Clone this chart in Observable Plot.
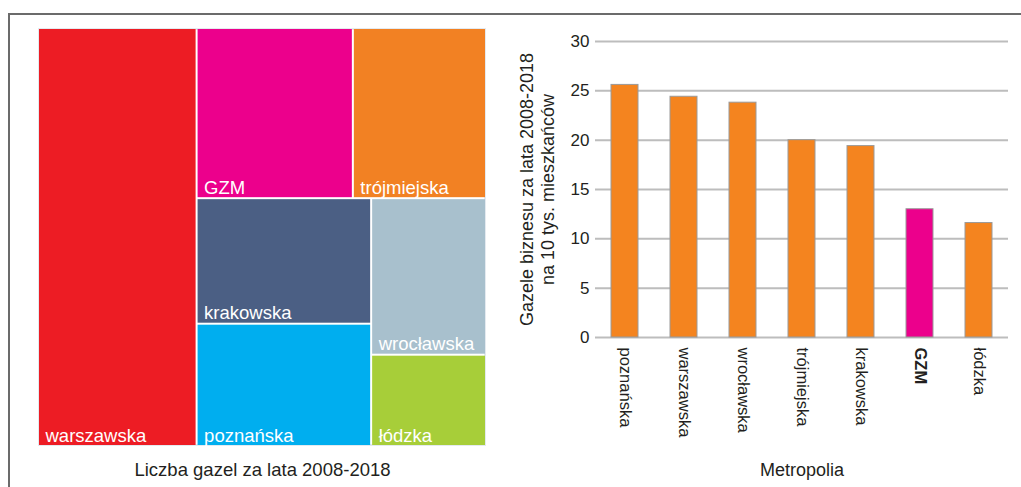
<!DOCTYPE html>
<html>
<head>
<meta charset="utf-8">
<script src="https://cdn.jsdelivr.net/npm/d3@7"></script>
<script src="https://cdn.jsdelivr.net/npm/@observablehq/plot@0.6"></script>
<style>
  html, body { margin: 0; padding: 0; background: #fff; }
  body { width: 1021px; height: 487px; position: relative; overflow: hidden; font-family: "Liberation Sans", Arial, sans-serif; }
  #frame { position: absolute; left: 8px; top: 13px; width: 1013px; height: 474px; border-top: 2px solid #6b6b6b; border-left: 2px solid #6b6b6b; box-sizing: border-box; }
  #tree { position: absolute; left: 0; top: 0; }
  #bars { position: absolute; left: 500px; top: 0; }
</style>
</head>
<body>
<div id="frame"></div>
<div id="tree"></div>
<div id="bars"></div>
<script>
// ---- Treemap data: number of gazelles 2008-2018 (estimated) ----
const treeNames  = ["warszawska", "GZM", "trójmiejska", "krakowska", "poznańska", "wrocławska", "łódzka"];
const treeValues = [3540, 1420, 1210, 1170, 1140, 960, 560];
const treeColors = ["#ED1C24", "#EC008C", "#F28123", "#4B5F84", "#00AEEF", "#A8C0CD", "#A7CE39"];
// nesting of the tiles (indices into treeNames)
const treeGroups = [0, [[1, 2], [[3, 4], [5, 6]]]];
const treeTitle = "Liczba gazel za lata 2008-2018";

// ---- Bar chart data: gazelles per 10k inhabitants (estimated) ----
const barCategories = ["poznańska", "warszawska", "wrocławska", "trójmiejska", "krakowska", "GZM", "łódzka"];
const barValues = [25.6, 24.4, 23.8, 20.0, 19.4, 13.0, 11.6];
const barColors = ["#F4841F", "#F4841F", "#F4841F", "#F4841F", "#F4841F", "#EC008C", "#F4841F"];
const yTicks = [0, 5, 10, 15, 20, 25, 30];
const yTitle = "Gazele biznesu za lata 2008-2018\nna 10 tys. mieszkańców";
const xTitle = "Metropolia";
const boldCategories = ["GZM"];

const font = '"Liberation Sans", Arial, sans-serif';
const ink = "#231f20";

// ---- Treemap ----
function build(g) {
  if (typeof g === "number") return {name: treeNames[g], value: treeValues[g], color: treeColors[g]};
  return {children: g.map(build)};
}
const TW = 446, TH = 416;
const root = d3.hierarchy(build(treeGroups)).sum(d => d.value || 0);
d3.treemap().tile(d3.treemapSliceDice).size([TW, TH]).paddingInner(2)(root);
const leaves = root.leaves();

const tree = Plot.plot({
  width: 500, height: 487,
  marginLeft: 39, marginRight: 15, marginTop: 29, marginBottom: 42,
  x: {domain: [0, TW], axis: null},
  y: {domain: [0, TH], reverse: true, axis: null},
  style: {fontFamily: font, background: "transparent"},
  marks: [
    Plot.rect([0], {x1: 0, x2: TW, y1: 0, y2: TH, fill: "none", stroke: "#e4eaf0", strokeWidth: 2}),
    Plot.rect(leaves, {x1: d => d.x0, x2: d => d.x1, y1: d => d.y0, y2: d => d.y1, fill: d => d.data.color}),
    Plot.text(leaves, {x: d => d.x0, y: d => d.y1, text: d => d.data.name, textAnchor: "start", lineAnchor: "bottom",
      dx: 6, dy: -4, fill: "white", fontSize: 18.5}),
    Plot.text([treeTitle], {frameAnchor: "bottom", text: d => d, dy: 25, lineAnchor: "middle", fontSize: 18.5, fill: ink})
  ]
});
document.getElementById("tree").append(tree);

// ---- Bar chart ----
const barData = barCategories.map((c, i) => ({name: c, value: barValues[i], color: barColors[i]}));
const bars = Plot.plot({
  width: 521, height: 487,
  marginLeft: 95, marginRight: 13, marginTop: 41, marginBottom: 150,
  x: {domain: barCategories, paddingInner: 0.545, paddingOuter: 0.2725, axis: null},
  y: {domain: [0, 30], axis: null},
  color: {type: "identity"},
  style: {fontFamily: font, background: "transparent"},
  marks: [
    Plot.ruleY(yTicks, {stroke: "#bdbdbd", strokeWidth: 2}),
    Plot.barY(barData, {x: "name", y: "value", fill: "color", stroke: "#9a9a9a", strokeWidth: 1}),
    Plot.axisY(yTicks, {tickSize: 0, tickPadding: 6, fontSize: 17, label: null, color: ink}),
    Plot.text(barData.filter(d => !boldCategories.includes(d.name)), {x: "name", text: "name", frameAnchor: "bottom",
      rotate: 90, textAnchor: "start", lineAnchor: "middle", dy: 10, fontSize: 16.5, fill: ink}),
    Plot.text(barData.filter(d => boldCategories.includes(d.name)), {x: "name", text: "name", frameAnchor: "bottom",
      rotate: 90, textAnchor: "start", lineAnchor: "middle", dy: 10, fontSize: 16.5, fontWeight: "bold", fill: ink}),
    Plot.text([xTitle], {frameAnchor: "bottom", text: d => d, dy: 133, lineAnchor: "middle", fontSize: 18, fill: ink}),
    Plot.text([yTitle], {frameAnchor: "left", text: d => d, rotate: -90, dx: -59, textAnchor: "middle", lineAnchor: "middle",
      lineHeight: 1.17, fontSize: 18, fill: ink})
  ]
});
document.getElementById("bars").append(bars);
</script>
</body>
</html>
